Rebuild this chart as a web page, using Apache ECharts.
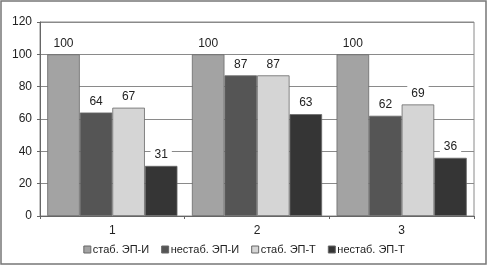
<!DOCTYPE html>
<html>
<head>
<meta charset="utf-8">
<script src="https://cdn.jsdelivr.net/npm/echarts@6/dist/echarts.min.js"></script>
<style>
  html, body { margin: 0; padding: 0; background: #fff; }
  #chart { width: 488px; height: 266px; }
</style>
</head>
<body>
<div id="chart"></div>
<script>
const categories = ['1', '2', '3']
const seriesNames = ['стаб. ЭП-И', 'нестаб. ЭП-И', 'стаб. ЭП-Т', 'нестаб. ЭП-Т']
const stabI = [100, 100, 100]
const nestabI = [64, 87, 62]
const stabT = [67, 87, 69]
const nestabT = [31, 63, 36]

const values = [stabI, nestabI, stabT, nestabT]
const colors = ['#a3a3a3', '#555555', '#d5d5d5', '#353535']
const font = 'Liberation Sans, Arial, sans-serif'

const chart = echarts.init(document.getElementById('chart'))

chart.setOption({
  animation: false,
  textStyle: { fontFamily: font },
  graphic: [
    {
      type: 'rect',
      shape: { x: 1, y: 1, width: 485, height: 263 },
      style: { fill: 'none', stroke: '#777', lineWidth: 1.5 },
      silent: true,
    },
  ],
  grid: {
    left: 40,
    right: 14,
    top: 22,
    bottom: 50,
    show: true,
    borderColor: '#8a8a8a',
    borderWidth: 1,
  },
  legend: {
    bottom: 6,
    left: 'center',
    itemWidth: 7,
    itemHeight: 7,
    itemGap: 12,
    icon: 'rect',
    textStyle: { fontSize: 11, color: '#222', padding: [0, 0, 0, -3] },
    data: seriesNames.map((name) => ({ name, itemStyle: { borderColor: '#666', borderWidth: 1 } })),
  },
  xAxis: {
    type: 'category',
    data: categories,
    axisLine: { lineStyle: { color: '#666' } },
    axisTick: { show: true, length: 3, lineStyle: { color: '#666' } },
    axisLabel: { color: '#222', fontSize: 12, margin: 9 },
  },
  yAxis: {
    type: 'value',
    min: 0,
    max: 120,
    interval: 20,
    axisLine: { show: true, lineStyle: { color: '#666' } },
    axisTick: { show: true, length: 3, lineStyle: { color: '#666' } },
    axisLabel: { color: '#222', fontSize: 12, margin: 8 },
    splitLine: { lineStyle: { color: '#8a8a8a' } },
  },
  series: seriesNames.map((name, i) => ({
    name,
    type: 'bar',
    data: values[i],
    barGap: '0%',
    barCategoryGap: '10%',
    itemStyle: { color: colors[i], borderColor: '#6a6a6a', borderWidth: 0.8 },
    label: {
      show: true,
      position: 'top',
      distance: 3,
      color: '#222',
      fontSize: 12,
      backgroundColor: '#fff',
      padding: [2, 4],
    },
  })),
})
</script>
</body>
</html>
